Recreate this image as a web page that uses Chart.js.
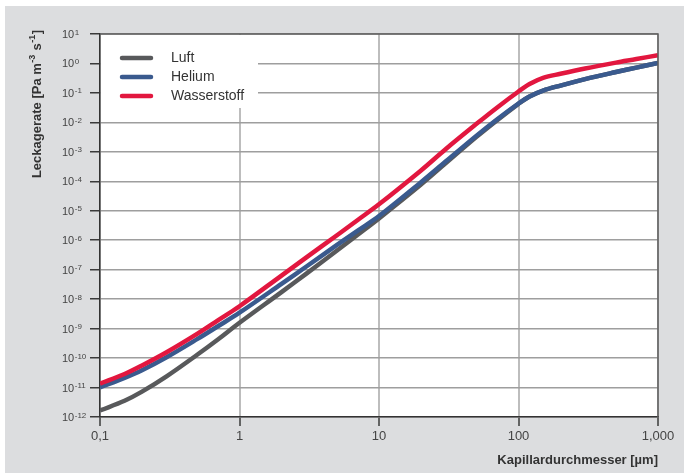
<!DOCTYPE html>
<html><head><meta charset="utf-8">
<script src="https://cdn.jsdelivr.net/npm/chart.js@4"></script>
<style>
html,body{margin:0;padding:0;background:#fff;overflow:hidden;}
canvas{display:block;}
</style></head>
<body>
<canvas id="c" width="684" height="473"></canvas>
<script>
// ---- data ----
const diameters = [0.1, 0.15, 0.2, 0.3, 0.5, 0.7, 1, 2, 3, 5, 7, 10, 20, 30, 50, 70, 100, 120, 150, 200, 300, 500, 700, 1000];
const luft = [1.66e-12, 3.55e-12, 7.24e-12, 2.40e-11, 1.32e-10, 4.27e-10, 1.58e-9, 1.74e-8, 7.24e-8, 4.47e-7, 1.51e-6, 5.50e-6, 7.76e-5, 4.07e-4, 3.24e-3, 1.17e-2, 4.27e-2, 7.59e-2, 0.12, 0.178, 0.295, 0.513, 0.724, 1.05];
const helium = [1.02e-11, 2.14e-11, 3.89e-11, 1.07e-10, 4.47e-10, 1.20e-9, 3.47e-9, 3.31e-8, 1.26e-7, 6.92e-7, 2.09e-6, 6.61e-6, 9.33e-5, 4.68e-4, 3.55e-3, 1.26e-2, 4.37e-2, 7.59e-2, 0.12, 0.178, 0.295, 0.513, 0.724, 1.05];
const wasserstoff = [1.35e-11, 2.88e-11, 5.62e-11, 1.58e-10, 6.76e-10, 1.91e-9, 5.75e-9, 6.31e-8, 2.57e-7, 1.48e-6, 4.79e-6, 1.66e-5, 2.34e-4, 1.23e-3, 8.91e-3, 3.16e-2, 0.112, 0.20, 0.324, 0.447, 0.676, 1.07, 1.41, 1.91];
const seriesNames = ['Luft', 'Helium', 'Wasserstoff'];
const seriesColors = ['#58595b', '#3a5a8e', '#e2173f'];
const xTickValues = [0.1, 1, 10, 100, 1000];
const xTickLabels = ['0,1', '1', '10', '100', '1,000'];
const yTickValues = [1e-12, 1e-11, 1e-10, 1e-9, 1e-8, 1e-7, 1e-6, 1e-5, 1e-4, 1e-3, 1e-2, 1e-1, 1, 10];
const yTickBase = '10';
const yTickExponents = ['-12', '-11', '-10', '-9', '-8', '-7', '-6', '-5', '-4', '-3', '-2', '-1', '0', '1'];
const xTitle = 'Kapillardurchmesser [µm]';
// y title as [text, isSuperscript] pieces: "Leckagerate [Pa m-3 s-1]"
const yTitleParts = [['Leckagerate [Pa m', false], ['-3', true], [' s', false], ['-1', true], [']', false]];

const FONT = '"Liberation Sans", Arial, Helvetica, sans-serif';
Chart.defaults.font.family = FONT;

const seriesValues = [luft, helium, wasserstoff];
const datasets = seriesNames.map((name, k) => ({
  label: name,
  data: diameters.map((d, i) => ({x: d, y: seriesValues[k][i]})),
  borderColor: seriesColors[k],
  backgroundColor: seriesColors[k],
  order: 3 - k,
  clip: 0
}));

const bgPlugin = {
  id: 'bg',
  beforeDraw(chart) {
    const c = chart.ctx, a = chart.chartArea;
    c.save();
    c.fillStyle = '#ffffff';
    c.fillRect(0, 0, chart.width, chart.height);
    c.fillStyle = '#dcdddf';
    c.fillRect(5, 6, chart.width - 5, chart.height - 6);
    c.fillStyle = '#ffffff';
    c.fillRect(a.left, a.top, a.right - a.left, a.bottom - a.top);
    c.restore();
  }
};

const framePlugin = {
  id: 'frame',
  afterDatasetsDraw(chart) {
    const c = chart.ctx, a = chart.chartArea;
    // legend box inside the plot
    c.save();
    c.fillStyle = '#ffffff';
    c.fillRect(a.left + 1, a.top + 1, 157, 73);
    const rows = [24, 43, 62];
    chart.data.datasets.forEach((ds, i) => {
      const y = a.top + rows[i];
      c.strokeStyle = ds.borderColor;
      c.lineWidth = 4.5;
      c.lineCap = 'round';
      c.beginPath();
      c.moveTo(a.left + 22, y);
      c.lineTo(a.left + 51, y);
      c.stroke();
      c.fillStyle = '#333333';
      c.font = '14px ' + FONT;
      c.textBaseline = 'middle';
      c.textAlign = 'left';
      c.fillText(ds.label, a.left + 71, y);
    });
    // top / right frame
    c.strokeStyle = '#5e5e5e';
    c.lineWidth = 1.5;
    c.lineCap = 'butt';
    c.beginPath();
    c.moveTo(a.left, a.top);
    c.lineTo(a.right, a.top);
    c.lineTo(a.right, a.bottom);
    c.stroke();
    c.restore();
  }
};

const textPlugin = {
  id: 'texts',
  afterDraw(chart) {
    const c = chart.ctx, a = chart.chartArea, ys = chart.scales.y;
    c.save();
    // y tick labels: base "10" with raised exponent, left aligned
    c.fillStyle = '#444444';
    c.textAlign = 'left';
    c.textBaseline = 'alphabetic';
    ys.ticks.forEach((t, i) => {
      const y = ys.getPixelForValue(t.value);
      c.font = '11px ' + FONT;
      c.fillText(yTickBase, 62, y + 4);
      const w = c.measureText(yTickBase).width;
      c.font = '8px ' + FONT;
      c.fillText(yTickExponents[i], 62 + w + 0.5, y + 0.5);
    });
    // rotated y axis title
    c.translate(36, a.top - 4);
    c.rotate(-Math.PI / 2);
    c.fillStyle = '#333333';
    c.textBaseline = 'alphabetic';
    c.textAlign = 'left';
    let total = 0;
    const widths = yTitleParts.map(([s, sup]) => {
      c.font = 'bold ' + (sup ? 9 : 13) + 'px ' + FONT;
      const w = c.measureText(s).width + (sup ? 1 : 0);
      total += w;
      return w;
    });
    let x = -total;
    yTitleParts.forEach(([s, sup], i) => {
      c.font = 'bold ' + (sup ? 9 : 13) + 'px ' + FONT;
      c.fillText(s, x + (sup ? 0.5 : 0), sup ? -1 : 4.5);
      x += widths[i];
    });
    c.restore();
  }
};

new Chart(document.getElementById('c'), {
  type: 'line',
  data: {datasets},
  options: {
    responsive: false,
    animation: false,
    devicePixelRatio: 1,
    layout: {padding: {left: 62, right: 26, top: 34, bottom: 0}},
    elements: {
      point: {radius: 0},
      line: {borderWidth: 4.5, tension: 0.35, borderCapStyle: 'butt', borderJoinStyle: 'round', fill: false}
    },
    plugins: {legend: {display: false}, tooltip: {enabled: false}},
    scales: {
      x: {
        type: 'logarithmic', min: 0.1, max: 1000,
        afterBuildTicks: s => { s.ticks = xTickValues.map(v => ({value: v})); },
        afterFit: s => { s.height = 56; },
        grid: {color: '#bdbdbd', lineWidth: 2, drawTicks: true, tickLength: 9, tickColor: '#3a3a3a', tickWidth: 1.5},
        border: {display: true, color: '#333333', width: 1.5},
        ticks: {autoSkip: false, maxRotation: 0, minRotation: 0, padding: 3, color: '#444444',
                font: {size: 13}, callback: (v, i) => xTickLabels[i]},
        title: {display: true, text: xTitle, align: 'end', color: '#333333',
                font: {size: 13, weight: 'bold'}, padding: {top: 0, bottom: 5}}
      },
      y: {
        type: 'logarithmic', min: 1e-12, max: 10,
        afterBuildTicks: s => { s.ticks = yTickValues.map(v => ({value: v})); },
        afterFit: s => { s.width = 38; },
        grid: {color: '#9e9e9e', lineWidth: 1.5, drawTicks: true, tickLength: 10, tickColor: '#3a3a3a', tickWidth: 1.5},
        border: {display: true, color: '#333333', width: 1.5},
        ticks: {display: false, autoSkip: false}
      }
    }
  },
  plugins: [bgPlugin, framePlugin, textPlugin]
});
</script>
</body></html>
